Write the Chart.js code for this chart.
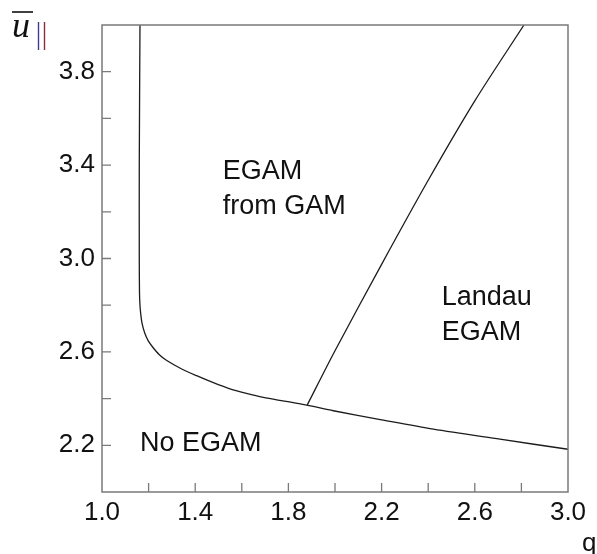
<!DOCTYPE html>
<html lang="en">
<head>
    <meta charset="UTF-8">
    <title>EGAM regions</title>
    <script src="https://cdn.jsdelivr.net/npm/chart.js"></script>
    <style>
        html, body { margin: 0; padding: 0; background: #fff; }
        #wrap { width: 597px; height: 554px; }
    </style>
</head>
<body>
    <div id="wrap"><canvas id="egamChart" width="597" height="554"></canvas></div>

    <script>
        // boundary between "No EGAM" and the EGAM regions
        const qLower = [1.163, 1.160, 1.160, 1.161, 1.163, 1.166, 1.172, 1.183, 1.198, 1.218, 1.246, 1.278, 1.340, 1.406, 1.478, 1.549, 1.620, 1.692, 1.790, 1.879, 1.993, 2.200, 2.422, 2.708, 3.000];
        const uLower = [4.000, 3.400, 3.000, 2.850, 2.800, 2.765, 2.722, 2.682, 2.648, 2.620, 2.588, 2.563, 2.528, 2.498, 2.468, 2.442, 2.422, 2.405, 2.388, 2.372, 2.348, 2.309, 2.269, 2.226, 2.183];

        // boundary between "EGAM from GAM" and "Landau EGAM"
        const qLandau = [1.881, 2.000, 2.200, 2.400, 2.600, 2.811];
        const uLandau = [2.373, 2.605, 2.975, 3.335, 3.675, 4.000];

        const xTicks = [1.0, 1.4, 1.8, 2.2, 2.6, 3.0];
        const yTicks = [2.2, 2.6, 3.0, 3.4, 3.8];

        const regionLabels = [
            { lines: ['EGAM', 'from GAM'], q: 1.518, u: 3.342 },
            { lines: ['Landau', 'EGAM'], q: 2.458, u: 2.801 },
            { lines: ['No EGAM'], q: 1.163, u: 2.176 }
        ];

        const toPoints = (xs, ys) => xs.map((x, i) => ({ x: x, y: ys[i] }));
        const isMajor = v => Math.round(v * 10) % 4 === 2;

        // inward ticks, frame, region texts and the axis titles
        const decorations = {
            id: 'decorations',
            afterDraw(chart) {
                const ctx = chart.ctx;
                const area = chart.chartArea;
                const xs = chart.scales.x, ys = chart.scales.y;
                ctx.save();

                ctx.strokeStyle = '#7a7a7a';
                ctx.lineWidth = 1.5;
                ctx.strokeRect(area.left, area.top, area.right - area.left, area.bottom - area.top);

                ctx.lineWidth = 1.3;
                ctx.beginPath();
                xs.ticks.forEach(t => {
                    const px = xs.getPixelForValue(t.value);
                    if (px <= area.left + 1 || px >= area.right - 1) return;
                    ctx.moveTo(px, area.bottom);
                    ctx.lineTo(px, area.bottom - 9);
                });
                ys.ticks.forEach(t => {
                    const py = ys.getPixelForValue(t.value);
                    if (py <= area.top + 1 || py >= area.bottom - 1) return;
                    ctx.moveTo(area.left, py);
                    ctx.lineTo(area.left + 9, py);
                });
                ctx.stroke();

                ctx.fillStyle = '#111';
                ctx.font = '27px "Liberation Sans", Arial, sans-serif';
                ctx.textAlign = 'left';
                ctx.textBaseline = 'alphabetic';
                regionLabels.forEach(lbl => {
                    const px = xs.getPixelForValue(lbl.q);
                    const py = ys.getPixelForValue(lbl.u);
                    lbl.lines.forEach((line, i) => ctx.fillText(line, px, py + i * 35));
                });

                // x axis title
                ctx.font = '26px "Liberation Sans", Arial, sans-serif';
                ctx.fillText('q', 582, 551);

                // y axis title: u bar with parallel subscript
                ctx.font = 'italic 36px "Liberation Serif", "Times New Roman", serif';
                ctx.fillText('u', 12, 37);
                ctx.strokeStyle = '#111';
                ctx.lineWidth = 1.6;
                ctx.beginPath();
                ctx.moveTo(12, 12);
                ctx.lineTo(33, 12);
                ctx.stroke();
                ctx.lineWidth = 1.4;
                ctx.strokeStyle = '#3d3f8c';
                ctx.beginPath();
                ctx.moveTo(38.5, 22);
                ctx.lineTo(38.5, 50);
                ctx.stroke();
                ctx.strokeStyle = '#8a2c3c';
                ctx.beginPath();
                ctx.moveTo(44.5, 22);
                ctx.lineTo(44.5, 50);
                ctx.stroke();

                ctx.restore();
            }
        };

        const ctx = document.getElementById('egamChart').getContext('2d');
        new Chart(ctx, {
            type: 'scatter',
            data: {
                datasets: [
                    {
                        data: toPoints(qLower, uLower),
                        showLine: true,
                        borderColor: '#1c1c1c',
                        borderWidth: 1.3,
                        pointRadius: 0,
                        tension: 0.3
                    },
                    {
                        data: toPoints(qLandau, uLandau),
                        showLine: true,
                        borderColor: '#1c1c1c',
                        borderWidth: 1.3,
                        pointRadius: 0,
                        tension: 0.3
                    }
                ]
            },
            options: {
                responsive: false,
                animation: false,
                layout: { padding: { top: 25, right: 29, left: 0, bottom: 0 } },
                plugins: { legend: { display: false }, tooltip: { enabled: false } },
                scales: {
                    x: {
                        type: 'linear',
                        min: 1.0,
                        max: 3.0,
                        afterBuildTicks: s => { s.ticks = [1.0, 1.2, 1.4, 1.6, 1.8, 2.0, 2.2, 2.4, 2.6, 2.8, 3.0].map(v => ({ value: v })); },
                        afterFit: s => { s.height = 62; },
                        grid: { display: false, drawTicks: false },
                        border: { display: false },
                        ticks: {
                            autoSkip: false,
                            maxRotation: 0,
                            padding: 5,
                            color: '#111',
                            font: { family: '"Liberation Sans", Arial, sans-serif', size: 26 },
                            callback: v => (isMajor(v) && xTicks.some(t => Math.abs(t - v) < 1e-6)) ? v.toFixed(1) : ''
                        }
                    },
                    y: {
                        type: 'linear',
                        min: 2.0,
                        max: 4.0,
                        afterBuildTicks: s => { s.ticks = [2.0, 2.2, 2.4, 2.6, 2.8, 3.0, 3.2, 3.4, 3.6, 3.8, 4.0].map(v => ({ value: v })); },
                        afterFit: s => { s.width = 102; },
                        grid: { display: false, drawTicks: false },
                        border: { display: false },
                        ticks: {
                            autoSkip: false,
                            padding: 7,
                            color: '#111',
                            font: { family: '"Liberation Sans", Arial, sans-serif', size: 26 },
                            callback: v => (isMajor(v) && yTicks.some(t => Math.abs(t - v) < 1e-6)) ? v.toFixed(1) : ''
                        }
                    }
                }
            },
            plugins: [decorations]
        });
    </script>
</body>
</html>
